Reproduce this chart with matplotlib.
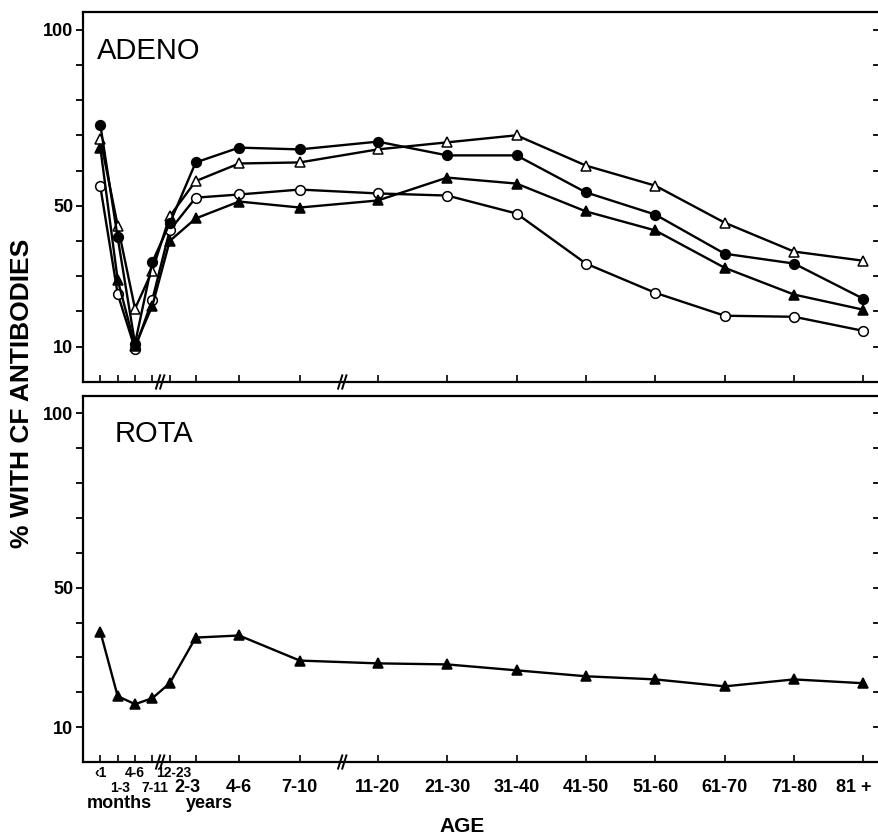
import matplotlib
matplotlib.use("Agg")
import matplotlib.pyplot as plt
import matplotlib.transforms as mtransforms

plt.rcParams['font.family'] = ['Liberation Sans', 'DejaVu Sans']

# age groups, placed on a broken (non-uniform) age axis
age_pos = [0, 1, 2, 3, 4, 5.5, 8, 11.5, 16, 20, 24, 28, 32, 36, 40, 44]
month_top = ['‹1', '4-6', '12-23']
month_top_idx = [0, 2, 4]
month_low = ['1-3', '7-11']
month_low_idx = [1, 3]
year_labels = ['2-3', '4-6', '7-10', '11-20', '21-30', '31-40',
               '41-50', '51-60', '61-70', '71-80', '81 +']
break_pos = [3.45, 13.95]

# ADENO, four series (% with CF antibodies)
adeno_filled_circle = [73, 41, 10.9, 34, 45, 62.3, 66.5, 66, 68.2, 64.3,
                       64.3, 53.8, 47.5, 36.4, 33.6, 23.6]
adeno_open_triangle = [69, 44.4, 20.8, 31.6, 47, 57, 62, 62.3, 66, 68,
                       70, 61.4, 55.7, 45.2, 37, 34.4]
adeno_filled_triangle = [66.5, 29, 10.3, 21.6, 40, 46.4, 51.2, 49.5, 51.5, 58,
                         56.3, 48.4, 43, 32.4, 24.8, 20.5]
adeno_open_circle = [55.5, 25, 9.4, 23.4, 43, 52.3, 53.2, 54.6, 53.5, 52.9,
                     47.8, 33.6, 25.3, 18.8, 18.5, 14.5]

# ROTA
rota = [37.4, 18.9, 16.6, 18.3, 22.6, 35.7, 36.3, 29.1, 28.3, 28,
        26.3, 24.6, 23.7, 21.7, 23.7, 22.6]

yticks = [10, 20, 30, 40, 50, 60, 70, 80, 90, 100]
ylabels = ['10', '', '', '', '50', '', '', '', '', '100']


def style_axis(ax):
    ax.set_xlim(-1, 44.95)
    ax.set_ylim(0, 105)
    ax.spines['right'].set_visible(False)
    ax.spines['left'].set_linewidth(1.6)
    ax.spines['bottom'].set_linewidth(1.6)
    ax.spines['top'].set_linewidth(1.6)
    ax.set_yticks(yticks)
    ax.set_yticklabels(ylabels, fontsize=13, fontweight='bold')
    ax.tick_params(axis='y', which='both', direction='out', length=5, width=1.3,
                   left=True, right=False, pad=2)
    ax.set_xticks(age_pos)
    ax.set_xticklabels([])
    ax.tick_params(axis='x', direction='in', length=5, width=1.2)
    # inward ticks on the right edge
    for v in yticks:
        ax.plot([0.993, 1.0], [v, v], color='black', lw=1.3,
                transform=ax.get_yaxis_transform(), clip_on=False)
    # axis break marks
    trans = mtransforms.blended_transform_factory(ax.transData, ax.transAxes)
    for b in break_pos:
        for dx in (-0.12, 0.12):
            ax.plot([b + dx - 0.12, b + dx + 0.12], [-0.018, 0.018], color='black',
                    lw=1.4, transform=trans, clip_on=False)


fig = plt.figure(figsize=(8.79, 8.36), dpi=100)
ax1 = fig.add_axes([0.0944, 0.5431, 0.9066, 0.4426])
ax2 = fig.add_axes([0.0944, 0.0885, 0.9066, 0.4378])

kw = dict(color='black', lw=1.7, markersize=7, markeredgewidth=1.1)
ax1.plot(age_pos, adeno_open_circle, marker='o', markerfacecolor='white', **kw)
ax1.plot(age_pos, adeno_filled_triangle, marker='^', markerfacecolor='black', **kw)
ax1.plot(age_pos, adeno_open_triangle, marker='^', markerfacecolor='white', **kw)
ax1.plot(age_pos, adeno_filled_circle, marker='o', markerfacecolor='black', **kw)
style_axis(ax1)
ax1.text(0.017, 0.895, 'ADENO', transform=ax1.transAxes, fontsize=21,
         ha='left', va='center')

ax2.plot(age_pos, rota, marker='^', markerfacecolor='black', **kw)
style_axis(ax2)
ax2.text(0.04, 0.895, 'ROTA', transform=ax2.transAxes, fontsize=21,
         ha='left', va='center')

# custom age labels below the bottom panel
tr = mtransforms.blended_transform_factory(ax2.transData, fig.transFigure)
for lab, i in zip(month_top, month_top_idx):
    ax2.text(age_pos[i] + (0.25 if i == 4 else 0), 1 - 773 / 836, lab,
             transform=tr, fontsize=10, fontweight='bold', ha='center', va='center')
for lab, i in zip(month_low, month_low_idx):
    ax2.text(age_pos[i] + 0.15, 1 - 788 / 836, lab, transform=tr, fontsize=10,
             fontweight='bold', ha='center', va='center')
for lab, p in zip(year_labels, age_pos[5:]):
    shift = 0.5 if p == 5.5 else (0.55 if p == 44 else 0)
    ax2.text(p - shift, 1 - 787 / 836, lab, transform=tr,
             fontsize=13, fontweight='bold', ha='center', va='center')
ax2.text(1.1, 1 - 803 / 836, 'months', transform=tr, fontsize=13,
         fontweight='bold', ha='center', va='center')
ax2.text(6.3, 1 - 803 / 836, 'years', transform=tr, fontsize=13,
         fontweight='bold', ha='center', va='center')
fig.text(462 / 879, 1 - 826 / 836, 'AGE', fontsize=15, fontweight='bold',
         ha='center', va='center')

fig.text(22 / 879, 1 - 393 / 836, '% WITH CF ANTIBODIES', rotation=90,
         fontsize=19, fontweight='bold', ha='center', va='center')

fig.savefig('out.png', dpi=100)
